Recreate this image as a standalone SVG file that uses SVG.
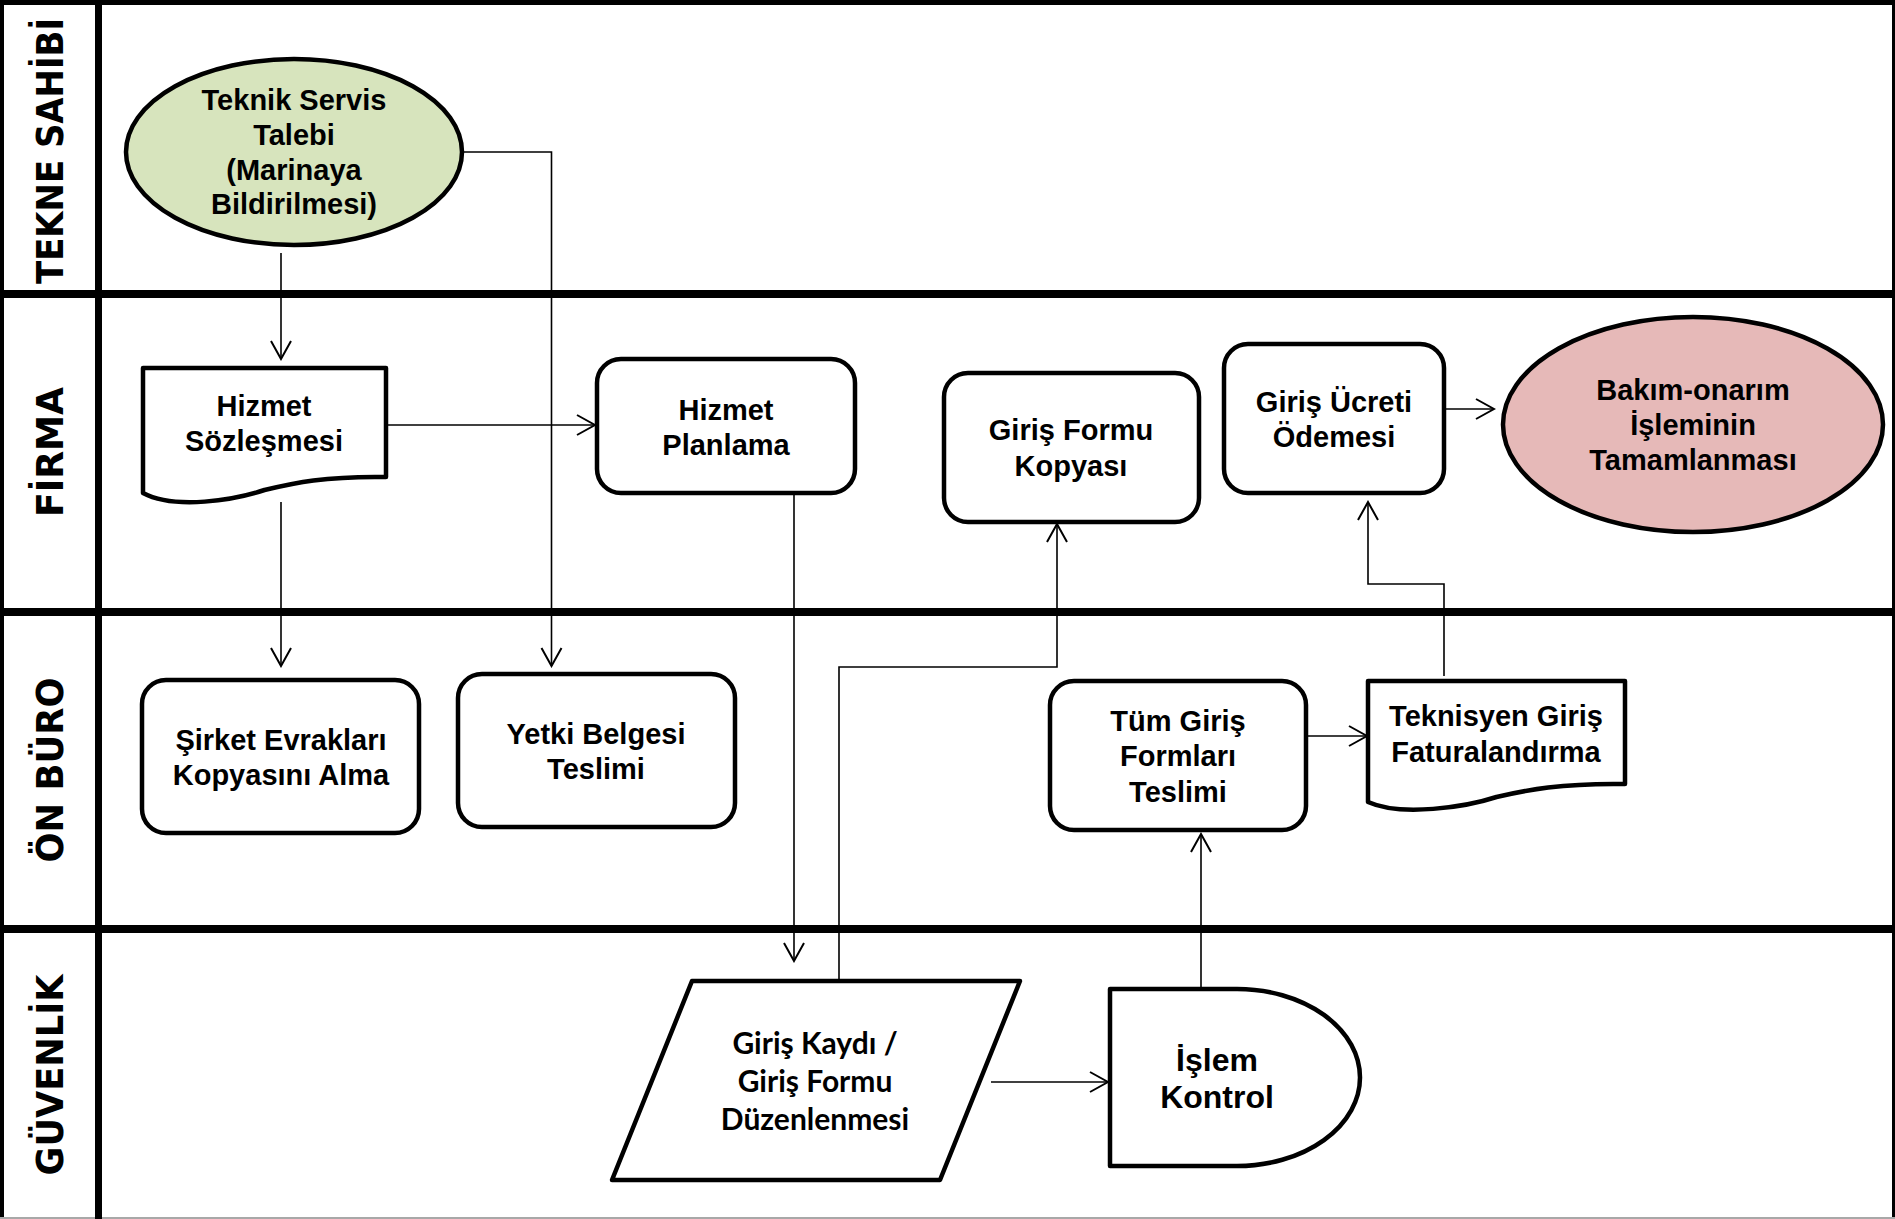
<svg xmlns="http://www.w3.org/2000/svg" width="1895" height="1219" viewBox="0 0 1895 1219">
  <style>
    .lane { fill: #000; }
    .lbl { font-family: "DejaVu Sans", Verdana, sans-serif; font-weight: bold; font-size: 37px; text-anchor: middle; fill: #000; }
    .node { fill: #fff; stroke: #000; stroke-width: 4.5; stroke-linejoin: round; }
    .t { font-family: "Liberation Sans", Arial, sans-serif; font-weight: bold; font-size: 29px; text-anchor: middle; fill: #000; }
    .tc { font-family: Lato, "Open Sans", sans-serif; font-weight: bold; font-size: 30px; text-anchor: middle; fill: #000; }
    .tk { font-family: "Liberation Sans", Arial, sans-serif; font-weight: bold; font-size: 32px; text-anchor: middle; fill: #000; }
    .conn { fill: none; stroke: #000; stroke-width: 1.6; marker-end: url(#arrow); }
  </style>
  <defs>
    <marker id="arrow" markerUnits="userSpaceOnUse" markerWidth="22" markerHeight="24" viewBox="0 0 22 24" refX="20" refY="12" orient="auto">
      <path d="M2,2 L20,12 L2,22" fill="none" stroke="#000" stroke-width="2"/>
    </marker>
  </defs>

  <rect x="0" y="0" width="1895" height="1219" fill="#fff"/>

  <!-- swimlane frame -->
  <g id="lanes">
    <rect class="lane" x="0" y="0" width="1895" height="5"/>
    <rect class="lane" x="0" y="0" width="4" height="1219"/>
    <rect class="lane" x="1892" y="0" width="3" height="1219"/>
    <rect x="0" y="1217" width="1895" height="2" fill="#a8a8a8"/>
    <rect class="lane" x="95" y="0" width="7" height="1219"/>
    <rect class="lane" x="0" y="290" width="1895" height="8"/>
    <rect class="lane" x="0" y="608" width="1895" height="8"/>
    <rect class="lane" x="0" y="925" width="1895" height="8"/>
    <text class="lbl" transform="translate(63,151) rotate(-90)" textLength="266" lengthAdjust="spacingAndGlyphs">TEKNE SAHİBİ</text>
    <text class="lbl" transform="translate(63,452) rotate(-90)" textLength="130" lengthAdjust="spacingAndGlyphs">FİRMA</text>
    <text class="lbl" transform="translate(63,770) rotate(-90)" textLength="185" lengthAdjust="spacingAndGlyphs">ÖN BÜRO</text>
    <text class="lbl" transform="translate(63,1075) rotate(-90)" textLength="201" lengthAdjust="spacingAndGlyphs">GÜVENLİK</text>
  </g>

  <!-- connectors -->
  <g id="connectors">
    <path class="conn" d="M281,253 V359"/>
    <path class="conn" d="M463,152 H551.5 V666"/>
    <path class="conn" d="M386,425 H595"/>
    <path class="conn" d="M281,502 V666"/>
    <path class="conn" d="M794,493 V961"/>
    <path class="conn" d="M839,981 V667 H1057 V524"/>
    <path class="conn" d="M991,1082 H1108"/>
    <path class="conn" d="M1201,989 V834"/>
    <path class="conn" d="M1306,736 H1367"/>
    <path class="conn" d="M1444,676 V584 H1368 V502"/>
    <path class="conn" d="M1444,409 H1494"/>
  </g>

  <g id="teknik-servis-talebi">
    <ellipse cx="294" cy="152" rx="168" ry="93" fill="#D7E4BD" stroke="#000" stroke-width="4.5"/>
    <text class="t" x="294" y="110">Teknik Servis</text>
    <text class="t" x="294" y="145">Talebi</text>
    <text class="t" x="294" y="180">(Marinaya</text>
    <text class="t" x="294" y="214">Bildirilmesi)</text>
  </g>

  <g id="hizmet-sozlesmesi">
    <path class="node" d="M143,368 H386 V477 C325,476 294,483 264.5,490 C235,500 175,510 143,493 Z"/>
    <text class="t" x="264" y="416">Hizmet</text>
    <text class="t" x="264" y="451">Sözleşmesi</text>
  </g>

  <g id="hizmet-planlama">
    <rect class="node" x="597" y="359" width="258" height="134" rx="24"/>
    <text class="t" x="726" y="420">Hizmet</text>
    <text class="t" x="726" y="455">Planlama</text>
  </g>

  <g id="giris-formu-kopyasi">
    <rect class="node" x="944" y="373" width="255" height="149" rx="24"/>
    <text class="t" x="1071" y="440">Giriş Formu</text>
    <text class="t" x="1071" y="476">Kopyası</text>
  </g>

  <g id="giris-ucreti-odemesi">
    <rect class="node" x="1224" y="344" width="220" height="149" rx="24"/>
    <text class="t" x="1334" y="412">Giriş Ücreti</text>
    <text class="t" x="1334" y="447">Ödemesi</text>
  </g>

  <g id="bakim-onarim">
    <ellipse cx="1693" cy="424.5" rx="190" ry="107.5" fill="#E6B9B8" stroke="#000" stroke-width="4.5"/>
    <text class="t" x="1693" y="400">Bakım-onarım</text>
    <text class="t" x="1693" y="435">İşleminin</text>
    <text class="t" x="1693" y="470">Tamamlanması</text>
  </g>

  <g id="sirket-evraklari">
    <rect class="node" x="142" y="680" width="277" height="153" rx="24"/>
    <text class="t" x="281" y="750">Şirket Evrakları</text>
    <text class="t" x="281" y="785">Kopyasını Alma</text>
  </g>

  <g id="yetki-belgesi">
    <rect class="node" x="458" y="674" width="277" height="153" rx="24"/>
    <text class="t" x="596" y="744">Yetki Belgesi</text>
    <text class="t" x="596" y="779">Teslimi</text>
  </g>

  <g id="tum-giris-formlari">
    <rect class="node" x="1050" y="681" width="256" height="149" rx="24"/>
    <text class="t" x="1178" y="731">Tüm Giriş</text>
    <text class="t" x="1178" y="766">Formları</text>
    <text class="t" x="1178" y="802">Teslimi</text>
  </g>

  <g id="teknisyen-giris-faturalandirma">
    <path class="node" d="M1368,681 H1625 V784 C1561,783 1527,790 1496.5,797 C1466,807 1401,817 1368,802 Z"/>
    <text class="t" x="1496" y="726">Teknisyen Giriş</text>
    <text class="t" x="1496" y="762">Faturalandırma</text>
  </g>

  <g id="giris-kaydi">
    <polygon class="node" points="692,981 1020,981 940,1180 612,1180"/>
    <text class="tc" x="815" y="1054">Giriş Kaydı /</text>
    <text class="tc" x="815" y="1092">Giriş Formu</text>
    <text class="tc" x="815" y="1130">Düzenlenmesi</text>
  </g>

  <g id="islem-kontrol">
    <path class="node" d="M1110,989 H1237 A123,88.5 0 0 1 1237,1166 H1110 Z"/>
    <text class="tk" x="1217" y="1071">İşlem</text>
    <text class="tk" x="1217" y="1108">Kontrol</text>
  </g>
</svg>
